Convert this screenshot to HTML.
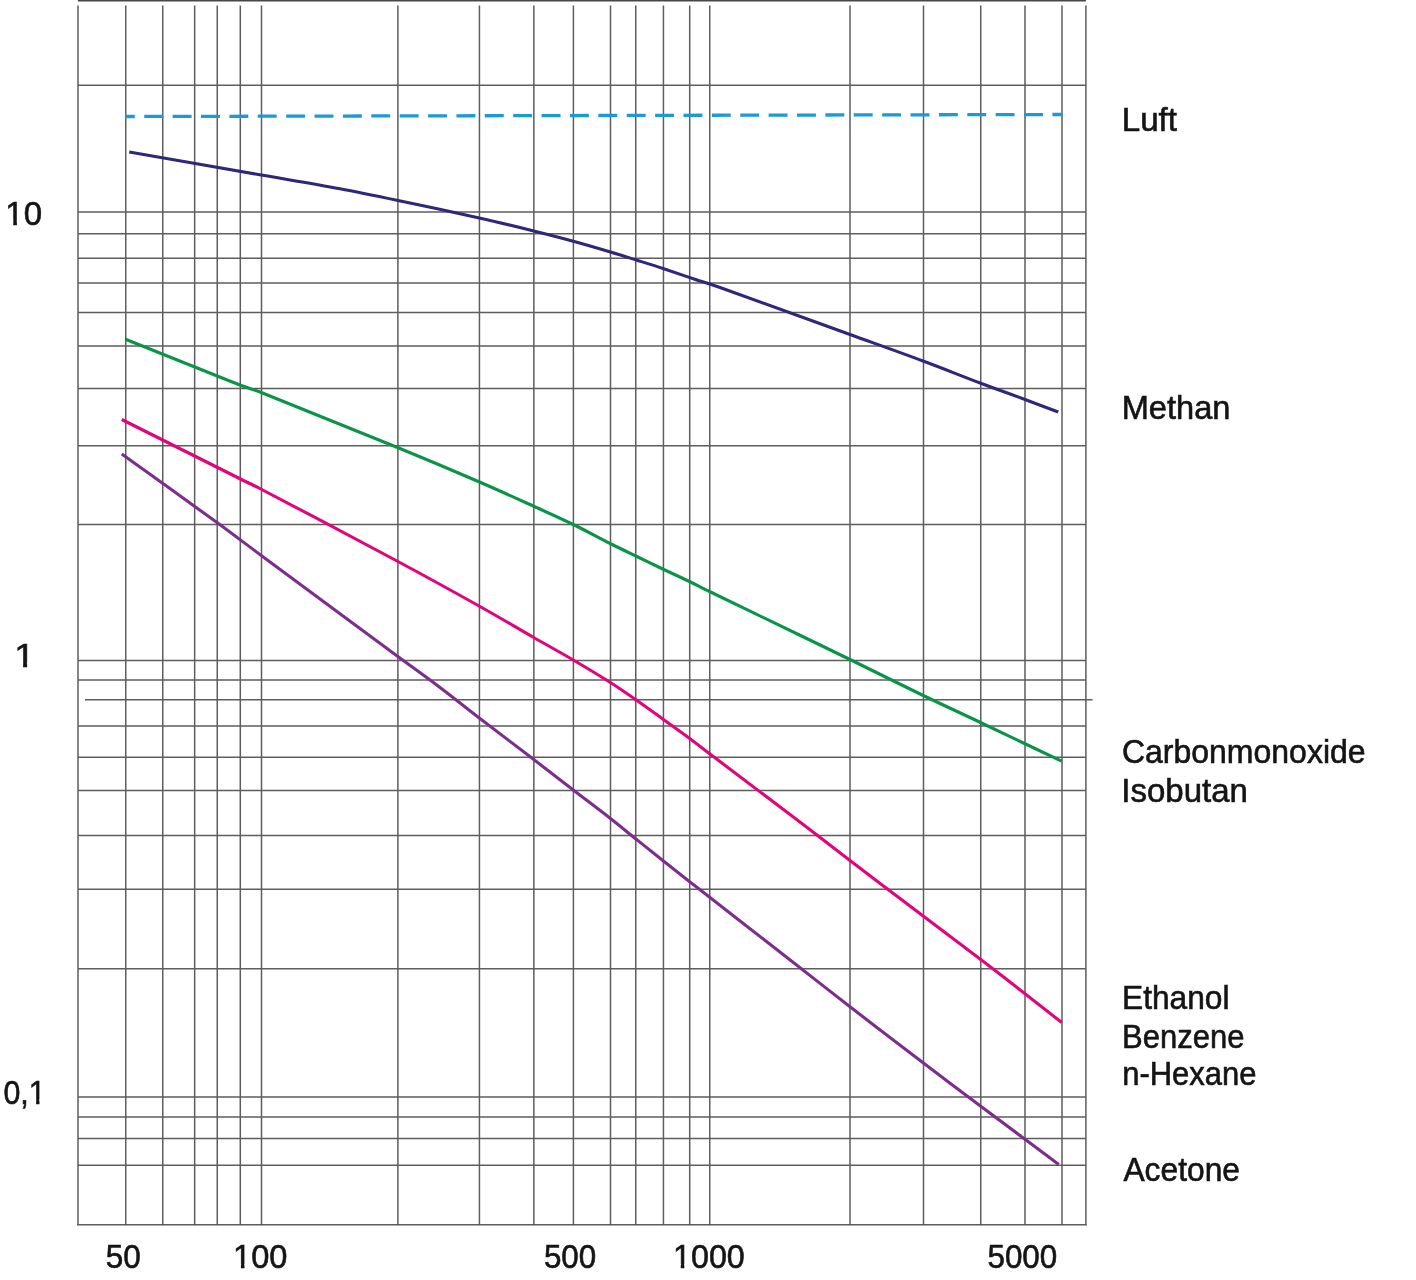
<!DOCTYPE html>
<html lang="de"><head><meta charset="utf-8"><title>Diagramm</title>
<style>html,body{margin:0;padding:0;background:#fff}svg{display:block}text{font-family:"Liberation Sans",sans-serif;fill:#141414;stroke:#141414;stroke-width:0.6}</style></head><body>
<svg width="1416" height="1280" viewBox="0 0 1416 1280">
<rect width="1416" height="1280" fill="#fff" stroke="none"/>
<g stroke="#5e5e5e" stroke-width="1.5" fill="none">
<path d="M78.00 5.60 V1225.30M125.75 5.60 V1225.30M162.75 5.60 V1225.30M194.65 5.60 V1225.30M217.25 5.60 V1225.30M240.30 5.60 V1225.30M261.50 5.60 V1225.30M397.90 5.60 V1225.30M479.45 5.60 V1225.30M533.85 5.60 V1225.30M573.40 5.60 V1225.30M610.50 5.60 V1225.30M635.75 5.60 V1225.30M663.45 5.60 V1225.30M689.70 5.60 V1225.30M709.75 5.60 V1225.30M850.00 5.60 V1225.30M923.50 5.60 V1225.30M980.75 5.60 V1225.30M1025.00 5.60 V1225.30M1062.00 5.60 V1225.30M1085.90 5.60 V1225.30M78.00 85.15 H1085.90M78.00 212.00 H1085.90M78.00 233.75 H1085.90M78.00 258.20 H1085.90M78.00 282.90 H1085.90M78.00 312.60 H1085.90M78.00 345.90 H1085.90M78.00 388.60 H1085.90M78.00 445.70 H1085.90M78.00 524.60 H1085.90M78.00 660.40 H1085.90M78.00 680.00 H1085.90M78.00 726.00 H1085.90M78.00 757.25 H1085.90M78.00 790.50 H1085.90M78.00 835.50 H1085.90M78.00 889.25 H1085.90M78.00 968.75 H1085.90M78.00 1097.00 H1085.90M78.00 1116.90 H1085.90M78.00 1138.60 H1085.90M78.00 1165.25 H1085.90M85 699.75 H1092.5"/>
<path d="M77.90 0.20 H1085.90" stroke-width="2.4" stroke="#474747"/>
<path d="M77.05 1224.80 H1086.85"/>
</g>
<g fill="none" stroke-width="3.1">
<path d="M125.2 116.5 L1062.5 114.5" stroke="#1a9bd8" stroke-width="3.3" stroke-dasharray="18.9 9.48" stroke-dashoffset="9.3"/>
<path d="M129.25 152.00 C173.25 159.67 217.25 167.33 261.25 175.00 C287.50 179.58 313.80 183.87 340.00 188.75 C359.39 192.37 378.70 196.44 398.00 200.50 C425.11 206.20 452.22 211.93 479.25 218.00 C497.47 222.09 515.62 226.52 533.75 231.00 C546.95 234.27 560.13 237.66 573.25 241.25 C585.72 244.66 598.11 248.31 610.50 252.00 C619.11 254.56 627.68 257.30 636.25 260.00 C645.43 262.89 654.61 265.74 663.75 268.75 C673.86 272.08 683.90 275.63 694.00 279.00 C702.65 281.88 711.41 284.44 720.00 287.50 C763.41 302.94 806.67 318.82 850.00 334.50 C874.59 343.40 899.25 352.11 923.75 361.25 C942.83 368.37 961.70 376.05 980.75 383.25 C995.45 388.80 1010.27 394.03 1025.00 399.50 C1036.10 403.62 1047.17 407.83 1058.25 412.00" stroke="#2e2878"/>
<path d="M125.50 339.25 C163.67 354.50 201.74 369.99 240.00 385.00 C246.99 387.74 254.27 389.73 261.25 392.50 C306.77 410.57 352.18 428.92 397.50 447.50 C424.94 458.75 452.27 470.26 479.50 482.00 C497.69 489.84 515.71 498.07 533.75 506.25 C546.96 512.24 560.21 518.15 573.25 524.50 C585.88 530.65 598.20 537.43 610.75 543.75 C619.20 548.01 627.74 552.11 636.25 556.25 C645.40 560.70 654.56 565.14 663.75 569.50 C672.47 573.64 681.30 577.56 690.00 581.75 C696.72 584.98 703.30 588.49 710.00 591.75 C756.63 614.41 803.38 636.82 850.00 659.50 C874.46 671.40 898.75 683.67 923.25 695.50 C942.25 704.67 961.44 713.46 980.50 722.50 C995.35 729.54 1010.16 736.67 1025.00 743.75 C1037.25 749.59 1049.50 755.42 1061.75 761.25" stroke="#0a9447"/>
<path d="M121.75 419.50 C161.17 439.25 200.57 459.03 240.00 478.75 C247.07 482.28 254.25 485.58 261.25 489.25 C306.75 513.09 352.23 536.98 397.50 561.25 C424.98 575.98 452.29 591.02 479.50 606.25 C497.71 616.44 515.65 627.12 533.75 637.50 C546.90 645.04 560.19 652.32 573.25 660.00 C585.86 667.41 598.41 674.91 610.75 682.75 C619.41 688.25 627.84 694.13 636.25 700.00 C645.50 706.46 654.60 713.15 663.75 719.75 C672.51 726.07 681.32 732.32 690.00 738.75 C696.74 743.74 703.32 748.94 710.00 754.00 C737.98 775.19 766.06 796.25 794.00 817.50 C812.73 831.75 831.29 846.23 850.00 860.50 C874.45 879.15 898.98 897.69 923.50 916.25 C942.57 930.69 961.74 944.99 980.75 959.50 C995.57 970.82 1010.28 982.30 1025.00 993.75 C1037.28 1003.30 1049.50 1012.92 1061.75 1022.50" stroke="#e1047c"/>
<path d="M121.75 454.00 C153.50 476.83 185.38 499.49 217.00 522.50 C231.88 533.33 246.47 544.55 261.25 555.50 C306.63 589.13 352.06 622.70 397.50 656.25 C411.65 666.70 425.97 676.90 440.00 687.50 C453.22 697.49 466.11 707.91 479.25 718.00 C497.36 731.91 515.62 745.62 533.75 759.50 C546.96 769.62 560.07 779.86 573.25 790.00 C585.73 799.61 598.34 809.05 610.75 818.75 C619.34 825.47 627.74 832.43 636.25 839.25 C645.41 846.59 654.56 853.94 663.75 861.25 C672.48 868.19 681.22 875.12 690.00 882.00 C696.64 887.20 703.35 892.32 710.00 897.50 C738.01 919.32 766.01 941.16 794.00 963.00 C812.67 977.57 831.26 992.27 850.00 1006.75 C874.51 1025.68 899.11 1044.50 923.75 1063.25 C942.69 1077.66 961.72 1091.96 980.75 1106.25 C995.47 1117.30 1010.26 1128.24 1025.00 1139.25 C1036.26 1147.66 1047.50 1156.08 1058.75 1164.50" stroke="#7d2e8d"/>
</g>
<defs><clipPath id="c8"><path clip-rule="evenodd" d="M0.32 184.50H47.07V239.50H0.32ZM6.84 220.13H13.28V227.50H6.84ZM16.90 220.13H23.08V227.50H16.90Z"/></clipPath><clipPath id="c9"><path clip-rule="evenodd" d="M9.18 626.80H39.77V681.80H9.18ZM15.87 662.43H23.09V669.80H15.87ZM27.15 662.43H34.08V669.80H27.15Z"/></clipPath><clipPath id="c10"><path clip-rule="evenodd" d="M-1.52 1063.50H50.69V1118.50H-1.52ZM30.20 1099.13H36.12V1106.50H30.20ZM39.45 1099.13H45.13V1106.50H39.45Z"/></clipPath><clipPath id="c12"><path clip-rule="evenodd" d="M228.06 1228.40H292.45V1283.40H228.06ZM234.56 1264.03H240.91V1271.40H234.56ZM244.48 1264.03H250.59V1271.40H244.48Z"/></clipPath><clipPath id="c14"><path clip-rule="evenodd" d="M667.99 1228.40H749.80V1283.40H667.99ZM674.47 1264.03H680.76V1271.40H674.47ZM684.30 1264.03H690.34V1271.40H684.30Z"/></clipPath></defs>
<text x="1121.69" y="130.90" font-size="33" textLength="55.36" lengthAdjust="spacingAndGlyphs">Luft</text>
<text x="1121.73" y="419.00" font-size="33" textLength="108.67" lengthAdjust="spacingAndGlyphs">Methan</text>
<text x="1121.95" y="763.40" font-size="33" textLength="243.64" lengthAdjust="spacingAndGlyphs">Carbonmonoxide</text>
<text x="1121.35" y="801.70" font-size="33" textLength="126.61" lengthAdjust="spacingAndGlyphs">Isobutan</text>
<text x="1122.00" y="1009.20" font-size="33" textLength="107.56" lengthAdjust="spacingAndGlyphs">Ethanol</text>
<text x="1122.05" y="1047.50" font-size="33" textLength="122.35" lengthAdjust="spacingAndGlyphs">Benzene</text>
<text x="1122.16" y="1085.40" font-size="33" textLength="134.37" lengthAdjust="spacingAndGlyphs">n-Hexane</text>
<text x="1123.44" y="1180.60" font-size="33" textLength="116.51" lengthAdjust="spacingAndGlyphs">Acetone</text>
<text x="5.32" y="224.50" font-size="33" textLength="36.75" lengthAdjust="spacingAndGlyphs" clip-path="url(#c8)">10</text>
<text x="14.18" y="666.80" font-size="33" textLength="20.60" lengthAdjust="spacingAndGlyphs" clip-path="url(#c9)">1</text>
<text x="3.48" y="1103.50" font-size="33" textLength="42.21" lengthAdjust="spacingAndGlyphs" clip-path="url(#c10)">0,1</text>
<text x="105.84" y="1268.40" font-size="33" textLength="35.08" lengthAdjust="spacingAndGlyphs">50</text>
<text x="233.06" y="1268.40" font-size="33" textLength="54.39" lengthAdjust="spacingAndGlyphs" clip-path="url(#c12)">100</text>
<text x="543.95" y="1268.40" font-size="33" textLength="52.31" lengthAdjust="spacingAndGlyphs">500</text>
<text x="672.99" y="1268.40" font-size="33" textLength="71.81" lengthAdjust="spacingAndGlyphs" clip-path="url(#c14)">1000</text>
<text x="987.45" y="1268.40" font-size="33" textLength="69.83" lengthAdjust="spacingAndGlyphs">5000</text>
</svg></body></html>
